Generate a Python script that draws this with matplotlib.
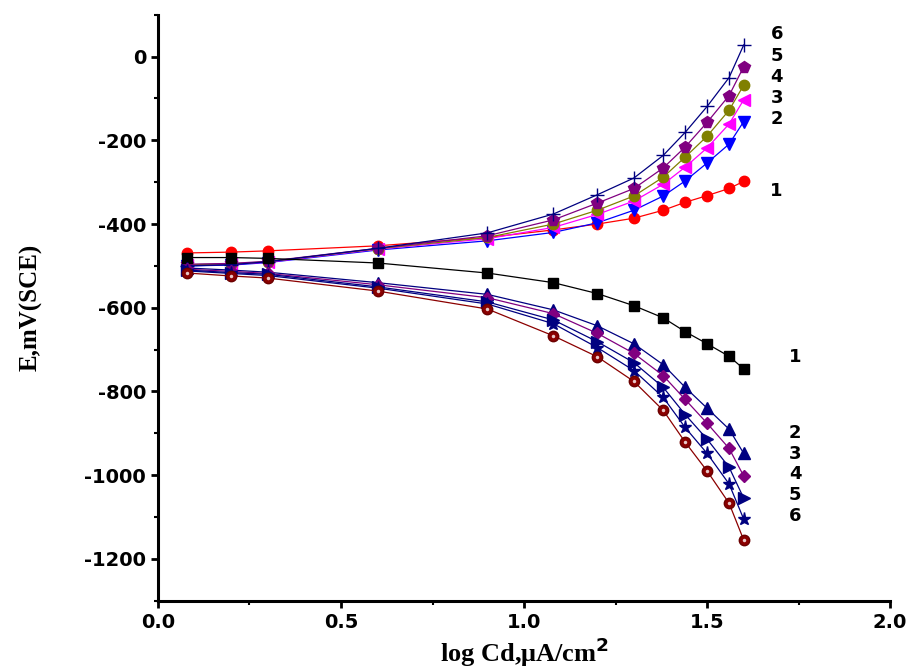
import numpy as np
import matplotlib
matplotlib.use("Agg")
import matplotlib.pyplot as plt

# log current density (same for every curve)
logi = [0.08, 0.2, 0.3, 0.6, 0.9, 1.08, 1.2, 1.3, 1.38, 1.44, 1.5, 1.56, 1.6]

# anodic branches, mV(SCE)
an1 = [-469, -467, -464, -452, -432, -414, -400, -386, -367, -348, -332, -315, -298]
an2 = [-500, -498, -492, -462, -440, -420, -397, -367, -333, -297, -254, -209, -155]
an3 = [-498, -496, -491, -460, -435, -408, -377, -345, -305, -264, -218, -161, -103]
an4 = [-497, -495, -490, -459, -432, -400, -367, -333, -288, -240, -190, -128, -68]
an5 = [-496, -494, -489, -458, -428, -390, -350, -315, -266, -216, -157, -93, -24]
an6 = [-500, -497, -490, -458, -421, -376, -330, -290, -236, -181, -119, -50, 28]

# cathodic branches, mV(SCE)
ca1 = [-480, -480, -482, -493, -517, -540, -566, -595, -624, -657, -686, -716, -746]
ca2 = [-505, -510, -515, -540, -568, -605, -643, -686, -736, -790, -840, -890, -948]
ca3 = [-508, -513, -518, -545, -576, -614, -661, -709, -762, -819, -876, -936, -1002]
ca4 = [-510, -516, -520, -550, -586, -629, -681, -731, -790, -855, -914, -981, -1055]
ca5 = [-512, -518, -523, -553, -591, -638, -695, -750, -814, -886, -948, -1021, -1105]
ca6 = [-517, -524, -529, -560, -603, -667, -717, -776, -845, -921, -990, -1067, -1155]

curve_labels = ["1", "2", "3", "4", "5", "6"]

plt.rcParams['font.family'] = ['DejaVu Sans']
plt.rcParams['axes.unicode_minus'] = False
plt.rcParams['mathtext.fontset'] = 'custom'
plt.rcParams['mathtext.rm'] = 'DejaVu Sans:bold'
plt.rcParams['mathtext.bf'] = 'DejaVu Sans:bold'

fig = plt.figure(figsize=(9.13, 6.72), dpi=100)
ax = fig.add_axes([0.173, 0.106, 0.802, 0.872])

ms = 7.5
# anodic
ax.plot(logi, an1, '-o', color='#FF0000', lw=0.9, ms=ms)
ax.plot(logi, an2, '-v', color='#0000FF', lw=0.9, ms=ms + 1)
ax.plot(logi, an3, '-<', color='#FF00FF', lw=0.9, ms=ms + 1)
ax.plot(logi, an4, '-o', color='#808000', lw=0.9, ms=ms)
ax.plot(logi, an5, '-p', color='#800080', lw=0.9, ms=ms + 1)
ax.plot(logi, an6, '-+', color='#000080', lw=0.9, ms=ms + 2, mew=1.0)
# cathodic
ax.plot(logi, ca1, '-s', color='#000000', lw=0.9, ms=ms - 1)
ax.plot(logi, ca2, '-^', color='#000080', lw=0.9, ms=ms + 1)
ax.plot(logi, ca3, '-D', color='#800080', lw=0.9, ms=ms - 1)
ax.plot(logi, ca4, '->', color='#000080', lw=0.9, ms=ms + 1)
ax.plot(logi, ca5, '-*', color='#000080', lw=0.9, ms=ms + 2)
ax.plot(logi, ca6, '-o', color='#8B0000', lw=0.9, ms=ms, mec='#6B0000')
ax.plot(logi, ca6, 'o', color='#E8C8C8', ms=2.5, mec='none')

# curve numbers
an_text_y = [-321, -150, -100, -48, 2, 55]
ca_text_y = [-717, -900, -950, -998, -1048, -1098]
for lab, ya, yc in zip(curve_labels, an_text_y, ca_text_y):
    ax.text(1.69, ya, lab, fontsize=13, fontweight='bold', va='center', ha='center')
    ax.text(1.74, yc, lab, fontsize=13, fontweight='bold', va='center', ha='center')

ax.set_xlim(0, 2.0)
ax.set_ylim(-1300, 100)
ax.set_xticks([0, 0.5, 1.0, 1.5, 2.0])
ax.set_xticklabels(['0.0', '0.5', '1.0', '1.5', '2.0'])
ax.set_xticks([0.25, 0.75, 1.25, 1.75], minor=True)
ax.set_yticks([0, -200, -400, -600, -800, -1000, -1200])
ax.set_yticks(np.arange(-1300, 101, 100), minor=True)

for s in ['top', 'right']:
    ax.spines[s].set_visible(False)
for s in ['left', 'bottom']:
    ax.spines[s].set_linewidth(2.2)

ax.tick_params(which='major', direction='out', length=5, width=2, labelsize=14)
ax.tick_params(which='minor', direction='out', length=3, width=1.5)
for t in ax.get_xticklabels() + ax.get_yticklabels():
    t.set_fontweight('bold')

ax.set_ylabel('E,mV(SCE)', family='Liberation Serif', fontweight='bold',
              fontsize=18, labelpad=30)
ax.set_xlabel('log Cd,\u03bcA/cm$^{\\mathbf{2}}$', family='Liberation Serif',
              fontweight='bold', fontsize=19, labelpad=3)

fig.savefig('out.png', dpi=100)
